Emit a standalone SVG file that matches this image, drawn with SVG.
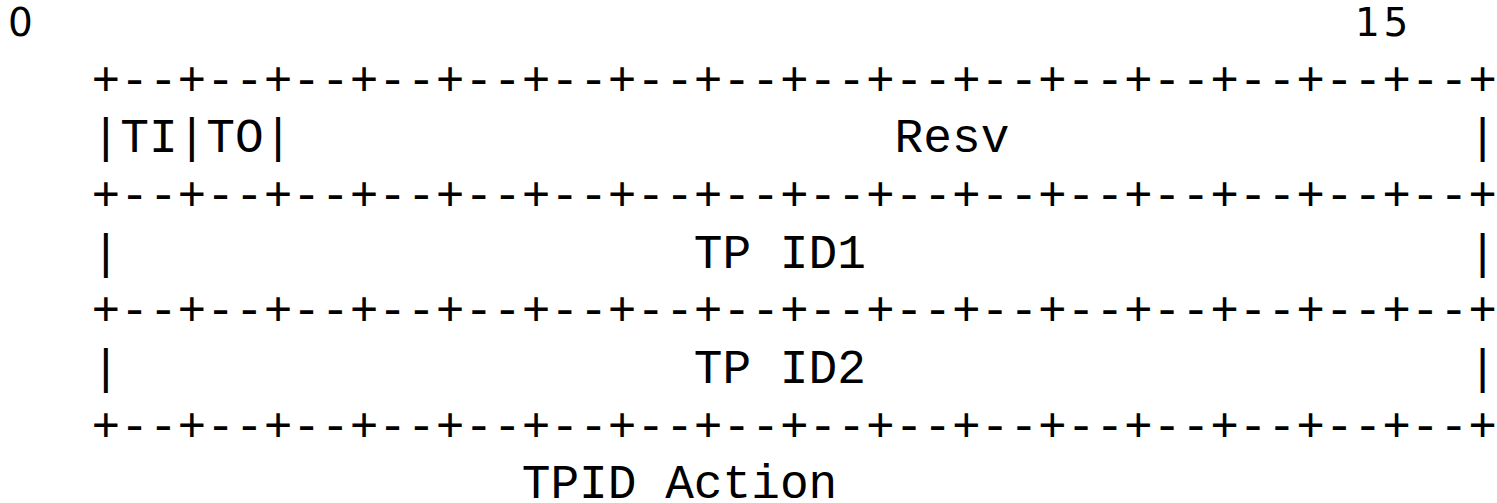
<svg xmlns="http://www.w3.org/2000/svg" width="1497" height="503" viewBox="0 0 1497 503">
<style>
.m{font-family:"Courier New","Nimbus Mono PS","FreeMono","Liberation Mono",monospace;font-size:47.8px;fill:#000;white-space:pre}
.s{font-family:"DejaVu Sans","Liberation Sans",sans-serif;font-size:39px;fill:#000;text-anchor:middle}
</style>
<rect width="1497" height="503" fill="#fff"/>
<g id="bit-labels">
<text class="s" x="20.3" y="36.3">0</text>
<text class="s" x="1367.5" y="36.3">1</text>
<text class="s" x="1396" y="36.3">5</text>
</g>
<g id="connectors">
<text class="m" x="91.54" y="94.66">+--+--+--+--+--+--+--+--+--+--+--+--+--+--+--+--+</text>
<text class="m" x="91.54" y="210">+--+--+--+--+--+--+--+--+--+--+--+--+--+--+--+--+</text>
<text class="m" x="91.54" y="325.3">+--+--+--+--+--+--+--+--+--+--+--+--+--+--+--+--+</text>
<text class="m" x="91.54" y="440.6">+--+--+--+--+--+--+--+--+--+--+--+--+--+--+--+--+</text>
</g>
<g id="row-flags">
<text class="m" x="91.54" y="152.3">|TI|TO|</text>
<text class="m" x="894.58" y="152.3">Resv</text>
<text class="m" x="1468.18" y="152.3">|</text>
</g>
<g id="row-tpid1">
<text class="m" x="91.54" y="267.6">|</text>
<text class="m" x="693.82" y="267.6">TP ID1</text>
<text class="m" x="1468.18" y="267.6">|</text>
</g>
<g id="row-tpid2">
<text class="m" x="91.54" y="383">|</text>
<text class="m" x="693.82" y="383">TP ID2</text>
<text class="m" x="1468.18" y="383">|</text>
</g>
<g id="caption">
<text class="m" x="521.74" y="497.5">TPID Action</text>
</g>
</svg>
